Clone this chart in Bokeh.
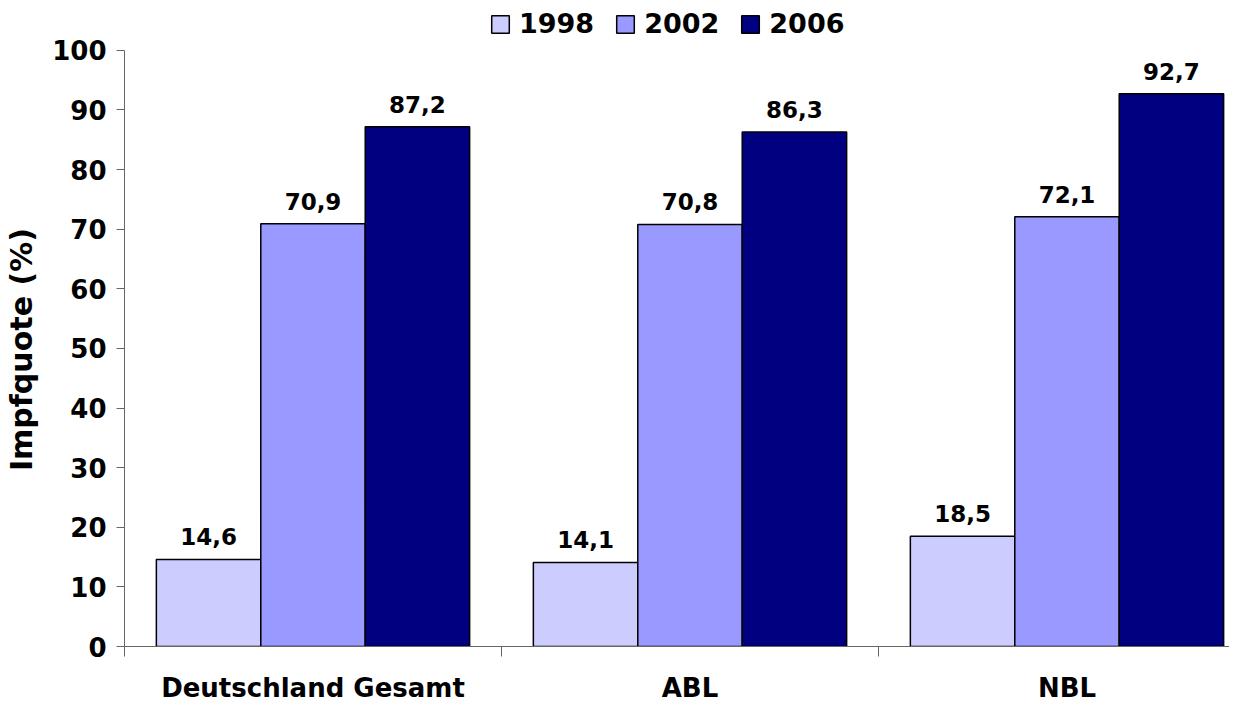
from bokeh.plotting import figure
from bokeh.models import ColumnDataSource, Range1d, FixedTicker
from bokeh.transform import dodge
from bokeh.core.properties import value
from bokeh.embed import file_html
from bokeh.resources import INLINE

categories = ["Deutschland Gesamt", "ABL", "NBL"]
years = ["1998", "2002", "2006"]
v1998 = [14.6, 14.1, 18.5]
v2002 = [70.9, 70.8, 72.1]
v2006 = [87.2, 86.3, 92.7]
colors = ["#CCCCFF", "#9999FF", "#000080"]
y_ticks = [0, 10, 20, 30, 40, 50, 60, 70, 80, 90, 100]

FONT = "DejaVu Sans"

centers = [i + 0.5 for i in range(len(categories))]
src = ColumnDataSource(dict(
    x=centers, cat=categories,
    v1998=v1998, v2002=v2002, v2006=v2006,
    l1998=[f"{v:.1f}".replace(".", ",") for v in v1998],
    l2002=[f"{v:.1f}".replace(".", ",") for v in v2002],
    l2006=[f"{v:.1f}".replace(".", ",") for v in v2006],
))

W, H = 1229, 705
LEFT, BOTTOM, TOPGAP = 124, 57, 50
frame_w = W - LEFT
frame_h = H - BOTTOM
y_end = 100 * frame_h / (frame_h - TOPGAP)

p = figure(width=W, height=H, output_backend="svg", toolbar_location=None,
           x_range=Range1d(0, frame_w / 377), y_range=Range1d(0, y_end),
           min_border_left=LEFT, min_border_top=0, min_border_bottom=BOTTOM,
           min_border_right=0)
p.outline_line_color = None
p.xgrid.visible = False
p.ygrid.visible = False

bw = 0.277
offsets = [-bw, 0, bw]
for yr, col, off in zip(years, colors, offsets):
    p.vbar(x=dodge("x", off, range=p.x_range), top="v" + yr, width=bw, source=src,
           fill_color=col, line_color="black", line_width=1.5, legend_label=yr)
    p.text(x=dodge("x", off, range=p.x_range), y="v" + yr, text="l" + yr, source=src,
           text_align="center", text_baseline="bottom", y_offset=-14,
           text_font=value(FONT), text_font_style="bold", text_font_size="23px",
           text_color="black")

# axes
p.yaxis.ticker = FixedTicker(ticks=y_ticks)
p.yaxis.bounds = (0, 100)
p.yaxis.major_tick_in = 0
p.yaxis.major_tick_out = 8
p.yaxis.minor_tick_out = 0
p.yaxis.minor_tick_in = 0
p.yaxis.axis_line_color = "#666666"
p.yaxis.major_tick_line_color = "#666666"
p.yaxis.major_label_text_font = FONT
p.yaxis.major_label_text_font_style = "bold"
p.yaxis.major_label_text_font_size = "26px"
p.yaxis.major_label_text_color = "black"
p.yaxis.major_label_standoff = 10
# trailing no-break spaces shift the centred label down to the 0–100 span
p.yaxis.axis_label = "Impfquote (%)" + "\u00a0" * 5
p.yaxis.axis_label_text_font = FONT
p.yaxis.axis_label_text_font_style = "bold"
p.yaxis.axis_label_text_font_size = "30px"
p.yaxis.axis_label_text_color = "black"
p.yaxis.axis_label_standoff = 10

p.xaxis.ticker = FixedTicker(ticks=centers, minor_ticks=[0, 1, 2, 3])
p.xaxis.major_label_overrides = {c: cat for c, cat in zip(centers, categories)}
p.xaxis.major_tick_in = 0
p.xaxis.major_tick_out = 0
p.xaxis.minor_tick_in = 0
p.xaxis.minor_tick_out = 10
p.xaxis.axis_line_color = "#666666"
p.xaxis.minor_tick_line_color = "#666666"
p.xaxis.major_label_text_font = FONT
p.xaxis.major_label_text_font_style = "bold"
p.xaxis.major_label_text_font_size = "26px"
p.xaxis.major_label_text_color = "black"
p.xaxis.major_label_standoff = 16

leg = p.legend[0]
leg.orientation = "horizontal"
leg.location = (365, frame_h - 41)
leg.padding = 0
leg.margin = 0
leg.spacing = 20
leg.glyph_width = 22
leg.glyph_height = 22
leg.label_standoff = 8
leg.label_text_font = FONT
leg.label_text_font_style = "bold"
leg.label_text_font_size = "27px"
leg.label_text_color = "black"
leg.border_line_color = None
leg.background_fill_alpha = 0

open("out.html", "w").write(file_html(p, INLINE))
